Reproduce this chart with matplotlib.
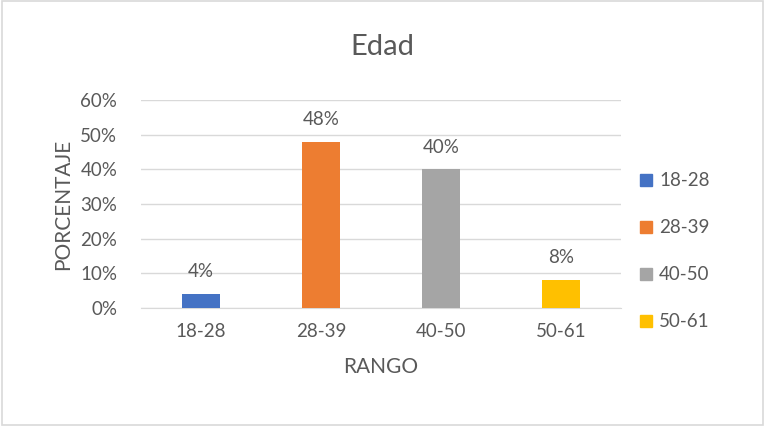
import matplotlib
matplotlib.use('Agg')

import matplotlib.pyplot as plt
import matplotlib.patches as mpatches
import matplotlib.ticker as ticker

plt.rcParams['font.family'] = ['Lato', 'DejaVu Sans']

rangos = ['18-28', '28-39', '40-50', '50-61']
porcentajes = [0.04, 0.48, 0.40, 0.08]
colores = ['#4472C4', '#ED7D31', '#A5A5A5', '#FFC000']
yticks = [0, 0.1, 0.2, 0.3, 0.4, 0.5, 0.6]

texto = '#595959'
rejilla = '#D9D9D9'

fig = plt.figure(figsize=(7.65, 4.26), dpi=100)
ax = fig.add_axes([0.184, 0.277, 0.628, 0.488])

xs = range(len(rangos))
ax.bar(xs, porcentajes, width=0.32, color=colores, zorder=3)
for x, v in zip(xs, porcentajes):
    ax.annotate('{:.0f}%'.format(v * 100), (x, v), xytext=(0, 10),
                textcoords='offset points', ha='center', va='bottom',
                fontsize=13.5, color=texto)

ax.set_xlim(-0.5, len(rangos) - 0.5)
ax.set_ylim(0, 0.6)
ax.set_yticks(yticks)
ax.yaxis.set_major_formatter(ticker.FuncFormatter(lambda v, p: '{:.0f}%'.format(v * 100)))
ax.set_xticks(list(xs))
ax.set_xticklabels(rangos)
ax.tick_params(axis='both', length=0, labelsize=13.5, colors=texto)
ax.tick_params(axis='x', pad=11)
ax.tick_params(axis='y', pad=17)
ax.grid(axis='y', color=rejilla, linewidth=1, zorder=0)
for s in ['top', 'right', 'left']:
    ax.spines[s].set_visible(False)
ax.spines['bottom'].set_color(rejilla)
ax.spines['bottom'].set_zorder(1)

ax.set_xlabel('RANGO', fontsize=15, color=texto, labelpad=12)
ax.set_ylabel('PORCENTAJE', fontsize=15, color=texto, labelpad=5)
fig.text(0.5, 0.89, 'Edad', ha='center', va='center', fontsize=21, color=texto)

handles = [mpatches.Patch(color=c, label=r) for c, r in zip(colores, rangos)]
leg = fig.legend(handles=handles, loc='center left', bbox_to_anchor=(0.815, 0.41),
                 frameon=False, fontsize=13.5, labelspacing=1.6,
                 handlelength=0.6, handleheight=0.6, handletextpad=0.4)
for t in leg.get_texts():
    t.set_color(texto)

fig.patches.append(mpatches.Rectangle((0.002, 0.003), 0.996, 0.994, transform=fig.transFigure,
                                      fill=False, edgecolor='#D9D9D9', linewidth=1.2))

plt.savefig('out.png', dpi=100)
